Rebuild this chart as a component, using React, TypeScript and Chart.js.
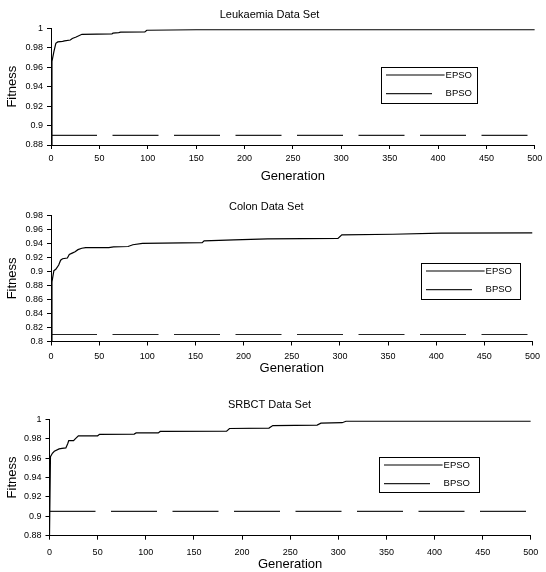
import React, { useEffect, useRef } from "react";
import { Chart, registerables } from "chart.js";

Chart.register(...registerables);

// ---------- data ----------
const generationTicks = [0, 50, 100, 150, 200, 250, 300, 350, 400, 450, 500];
const seriesNames = ["EPSO", "BPSO"];

const leukTitle = "Leukaemia Data Set";
const leukYTicks = [0.88, 0.9, 0.92, 0.94, 0.96, 0.98, 1];
const leukEpsoGen = [0, 1, 3, 5, 7, 12, 14, 20, 22, 26, 32, 63, 64, 70, 72, 97, 99, 150, 500];
const leukEpsoFit = [0.88, 0.966, 0.976, 0.9846, 0.986, 0.9866, 0.987, 0.988, 0.9895, 0.991, 0.9938, 0.9942, 0.995, 0.9955, 0.996, 0.9962, 0.998, 0.9985, 0.9985];
const leukBpsoGen = [0, 500];
const leukBpsoFit = [0.89, 0.89];

const colonTitle = "Colon Data Set";
const colonYTicks = [0.8, 0.82, 0.84, 0.86, 0.88, 0.9, 0.92, 0.94, 0.96, 0.98];
const colonEpsoGen = [0, 1, 3, 5, 8, 10, 12, 17, 19, 22, 25, 28, 32, 36, 60, 65, 80, 85, 95, 157, 159, 190, 225, 298, 302, 355, 405, 500];
const colonEpsoFit = [0.8, 0.885, 0.901, 0.903, 0.909, 0.916, 0.918, 0.919, 0.924, 0.926, 0.928, 0.931, 0.933, 0.934, 0.934, 0.935, 0.9355, 0.938, 0.94, 0.941, 0.9435, 0.945, 0.9465, 0.947, 0.952, 0.953, 0.9545, 0.955];
const colonBpsoGen = [0, 500];
const colonBpsoFit = [0.81, 0.81];

const srbctTitle = "SRBCT Data Set";
const srbctYTicks = [0.88, 0.9, 0.92, 0.94, 0.96, 0.98, 1];
const srbctEpsoGen = [0, 1, 3, 5, 10, 13, 17, 19, 20, 25, 27, 30, 50, 52, 88, 90, 113, 115, 184, 187, 228, 232, 278, 282, 304, 308, 500];
const srbctEpsoFit = [0.88, 0.9615, 0.965, 0.967, 0.9695, 0.97, 0.9705, 0.975, 0.978, 0.978, 0.98, 0.983, 0.983, 0.9845, 0.9848, 0.986, 0.986, 0.9875, 0.9878, 0.9905, 0.991, 0.9935, 0.994, 0.996, 0.9965, 0.998, 0.998];
const srbctBpsoGen = [0, 500];
const srbctBpsoFit = [0.905, 0.905];

// ---------- layout / style ----------
const FONT = '"Liberation Sans", Arial, Helvetica, sans-serif';
const TICK_SIZE = 9;

type Panel = {
  title: string;
  yTicks: number[];
  epsoGen: number[];
  epsoFit: number[];
  bpsoGen: number[];
  bpsoFit: number[];
  top: number;
  height: number;
  yWidth: number;
  padRight: number;
  xHeight: number;
  titlePadTop: number;
  titlePadBottom: number;
  xTickPad: number;
  xTitlePad: number;
  yTitlePad: number;
  legend: { left: number; top: number; width: number; height: number };
};

const panels: Panel[] = [
  {
    title: leukTitle, yTicks: leukYTicks,
    epsoGen: leukEpsoGen, epsoFit: leukEpsoFit, bpsoGen: leukBpsoGen, bpsoFit: leukBpsoFit,
    top: 0, height: 190, yWidth: 51, padRight: 7, xHeight: 45,
    titlePadTop: 8.4, titlePadBottom: 6.7, xTickPad: 3.7, xTitlePad: 6.2, yTitlePad: 5,
    legend: { left: 381, top: 67, width: 96, height: 36 },
  },
  {
    title: colonTitle, yTicks: colonYTicks,
    epsoGen: colonEpsoGen, epsoFit: colonEpsoFit, bpsoGen: colonBpsoGen, bpsoFit: colonBpsoFit,
    top: 190, height: 190, yWidth: 51, padRight: 13.5, xHeight: 38.5,
    titlePadTop: 10.1, titlePadBottom: 2, xTickPad: 5.2, xTitlePad: 3.9, yTitlePad: 5,
    legend: { left: 421, top: 73, width: 99, height: 36 },
  },
  {
    title: srbctTitle, yTicks: srbctYTicks,
    epsoGen: srbctEpsoGen, epsoFit: srbctEpsoFit, bpsoGen: srbctBpsoGen, bpsoFit: srbctBpsoFit,
    top: 380, height: 192, yWidth: 49.5, padRight: 7, xHeight: 36.3,
    titlePadTop: 18.4, titlePadBottom: 7.7, xTickPad: 7.7, xTitlePad: 0, yTitlePad: 5,
    legend: { left: 379, top: 77, width: 100, height: 35 },
  },
];

const boxLegend = {
  id: "boxLegend",
  afterDraw(chart: any, _args: any, opts: any) {
    const ctx = chart.ctx as CanvasRenderingContext2D;
    const { left, top, width, height } = opts;
    ctx.save();
    ctx.setLineDash([]);
    ctx.strokeStyle = "#000";
    ctx.lineWidth = 1;
    ctx.strokeRect(Math.round(left) + 0.5, Math.round(top) + 0.5, width, height);
    ctx.font = `9.5px ${FONT}`;
    ctx.textAlign = "right";
    ctx.textBaseline = "middle";
    const textRight = left + 91;
    chart.data.datasets.forEach((d: any, i: number) => {
      const y = top + 8 + i * 18.7;
      const textStart = textRight - ctx.measureText(d.label).width;
      const len = d.borderDash && d.borderDash.length ? d.borderDash[0] : 60;
      const end = Math.min(left + 5 + len, textStart - 1);
      ctx.strokeStyle = d.borderColor;
      ctx.lineWidth = d.borderWidth;
      ctx.beginPath();
      ctx.moveTo(left + 5, y);
      ctx.lineTo(end, y);
      ctx.stroke();
      ctx.fillStyle = "#000";
      ctx.fillText(d.label, textRight, y);
    });
    ctx.restore();
  },
};

function buildConfig(p: Panel): any {
  const epso = p.epsoGen.map((g, i) => ({ x: g, y: p.epsoFit[i] }));
  const bpso = p.bpsoGen.map((g, i) => ({ x: g, y: p.bpsoFit[i] }));
  const yMin = Math.min(...p.yTicks);
  const yMax = Math.max(...p.yTicks);
  return {
    type: "line",
    data: {
      datasets: [
        { label: seriesNames[0], data: epso, borderColor: "#000", borderWidth: 1.2, pointRadius: 0, tension: 0, fill: false },
        { label: seriesNames[1], data: bpso, borderColor: "#222", borderWidth: 1.2, borderDash: [46, 15.5], pointRadius: 0, tension: 0, fill: false },
      ],
    },
    options: {
      animation: false,
      responsive: false,
      devicePixelRatio: 1,
      events: [],
      layout: { padding: { left: 0, right: p.padRight, top: 0, bottom: 0 } },
      plugins: {
        legend: { display: false },
        tooltip: { enabled: false },
        title: {
          display: true,
          text: p.title,
          color: "#000",
          font: { size: 11, family: FONT, weight: "normal" },
          padding: { top: p.titlePadTop, bottom: p.titlePadBottom },
        },
        boxLegend: p.legend,
      },
      scales: {
        x: {
          type: "linear",
          min: 0,
          max: 500,
          afterBuildTicks: (s: any) => { s.ticks = generationTicks.map((v) => ({ value: v })); },
          afterFit: (s: any) => { s.height = p.xHeight; },
          ticks: { autoSkip: false, maxRotation: 0, padding: p.xTickPad, color: "#000", font: { size: TICK_SIZE, family: FONT }, callback: (v: any) => String(v) },
          grid: { display: true, drawOnChartArea: false, drawTicks: true, tickLength: 4, color: "#000", lineWidth: 1 },
          border: { display: true, color: "#000", width: 1 },
          title: { display: true, text: "Generation", color: "#000", font: { size: 13, family: FONT }, padding: { top: 0, bottom: p.xTitlePad } },
        },
        y: {
          type: "linear",
          min: yMin,
          max: yMax,
          afterBuildTicks: (s: any) => { s.ticks = p.yTicks.map((v) => ({ value: v })); },
          afterFit: (s: any) => { s.width = p.yWidth; },
          ticks: { autoSkip: false, padding: 4, color: "#000", font: { size: TICK_SIZE, family: FONT }, callback: (v: any) => String(v) },
          grid: { display: true, drawOnChartArea: false, drawTicks: true, tickLength: 4, color: "#000", lineWidth: 1 },
          border: { display: true, color: "#000", width: 1 },
          title: { display: true, text: "Fitness", color: "#000", font: { size: 13, family: FONT }, padding: { top: p.yTitlePad, bottom: 0 } },
        },
      },
    },
    plugins: [boxLegend],
  };
}

function FitnessChart({ panel }: { panel: Panel }) {
  const ref = useRef<HTMLCanvasElement>(null);
  useEffect(() => {
    const chart = new Chart(ref.current as HTMLCanvasElement, buildConfig(panel));
    return () => chart.destroy();
  }, [panel]);
  return (
    <canvas
      ref={ref}
      width={546}
      height={panel.height}
      style={{ position: "absolute", left: 0, top: panel.top, width: 546, height: panel.height, display: "block" }}
    />
  );
}

export default function App() {
  return (
    <div style={{ position: "absolute", left: 0, top: 0, width: 546, height: 572, background: "#fff" }}>
      {panels.map((p) => (
        <FitnessChart key={p.title} panel={p} />
      ))}
    </div>
  );
}
